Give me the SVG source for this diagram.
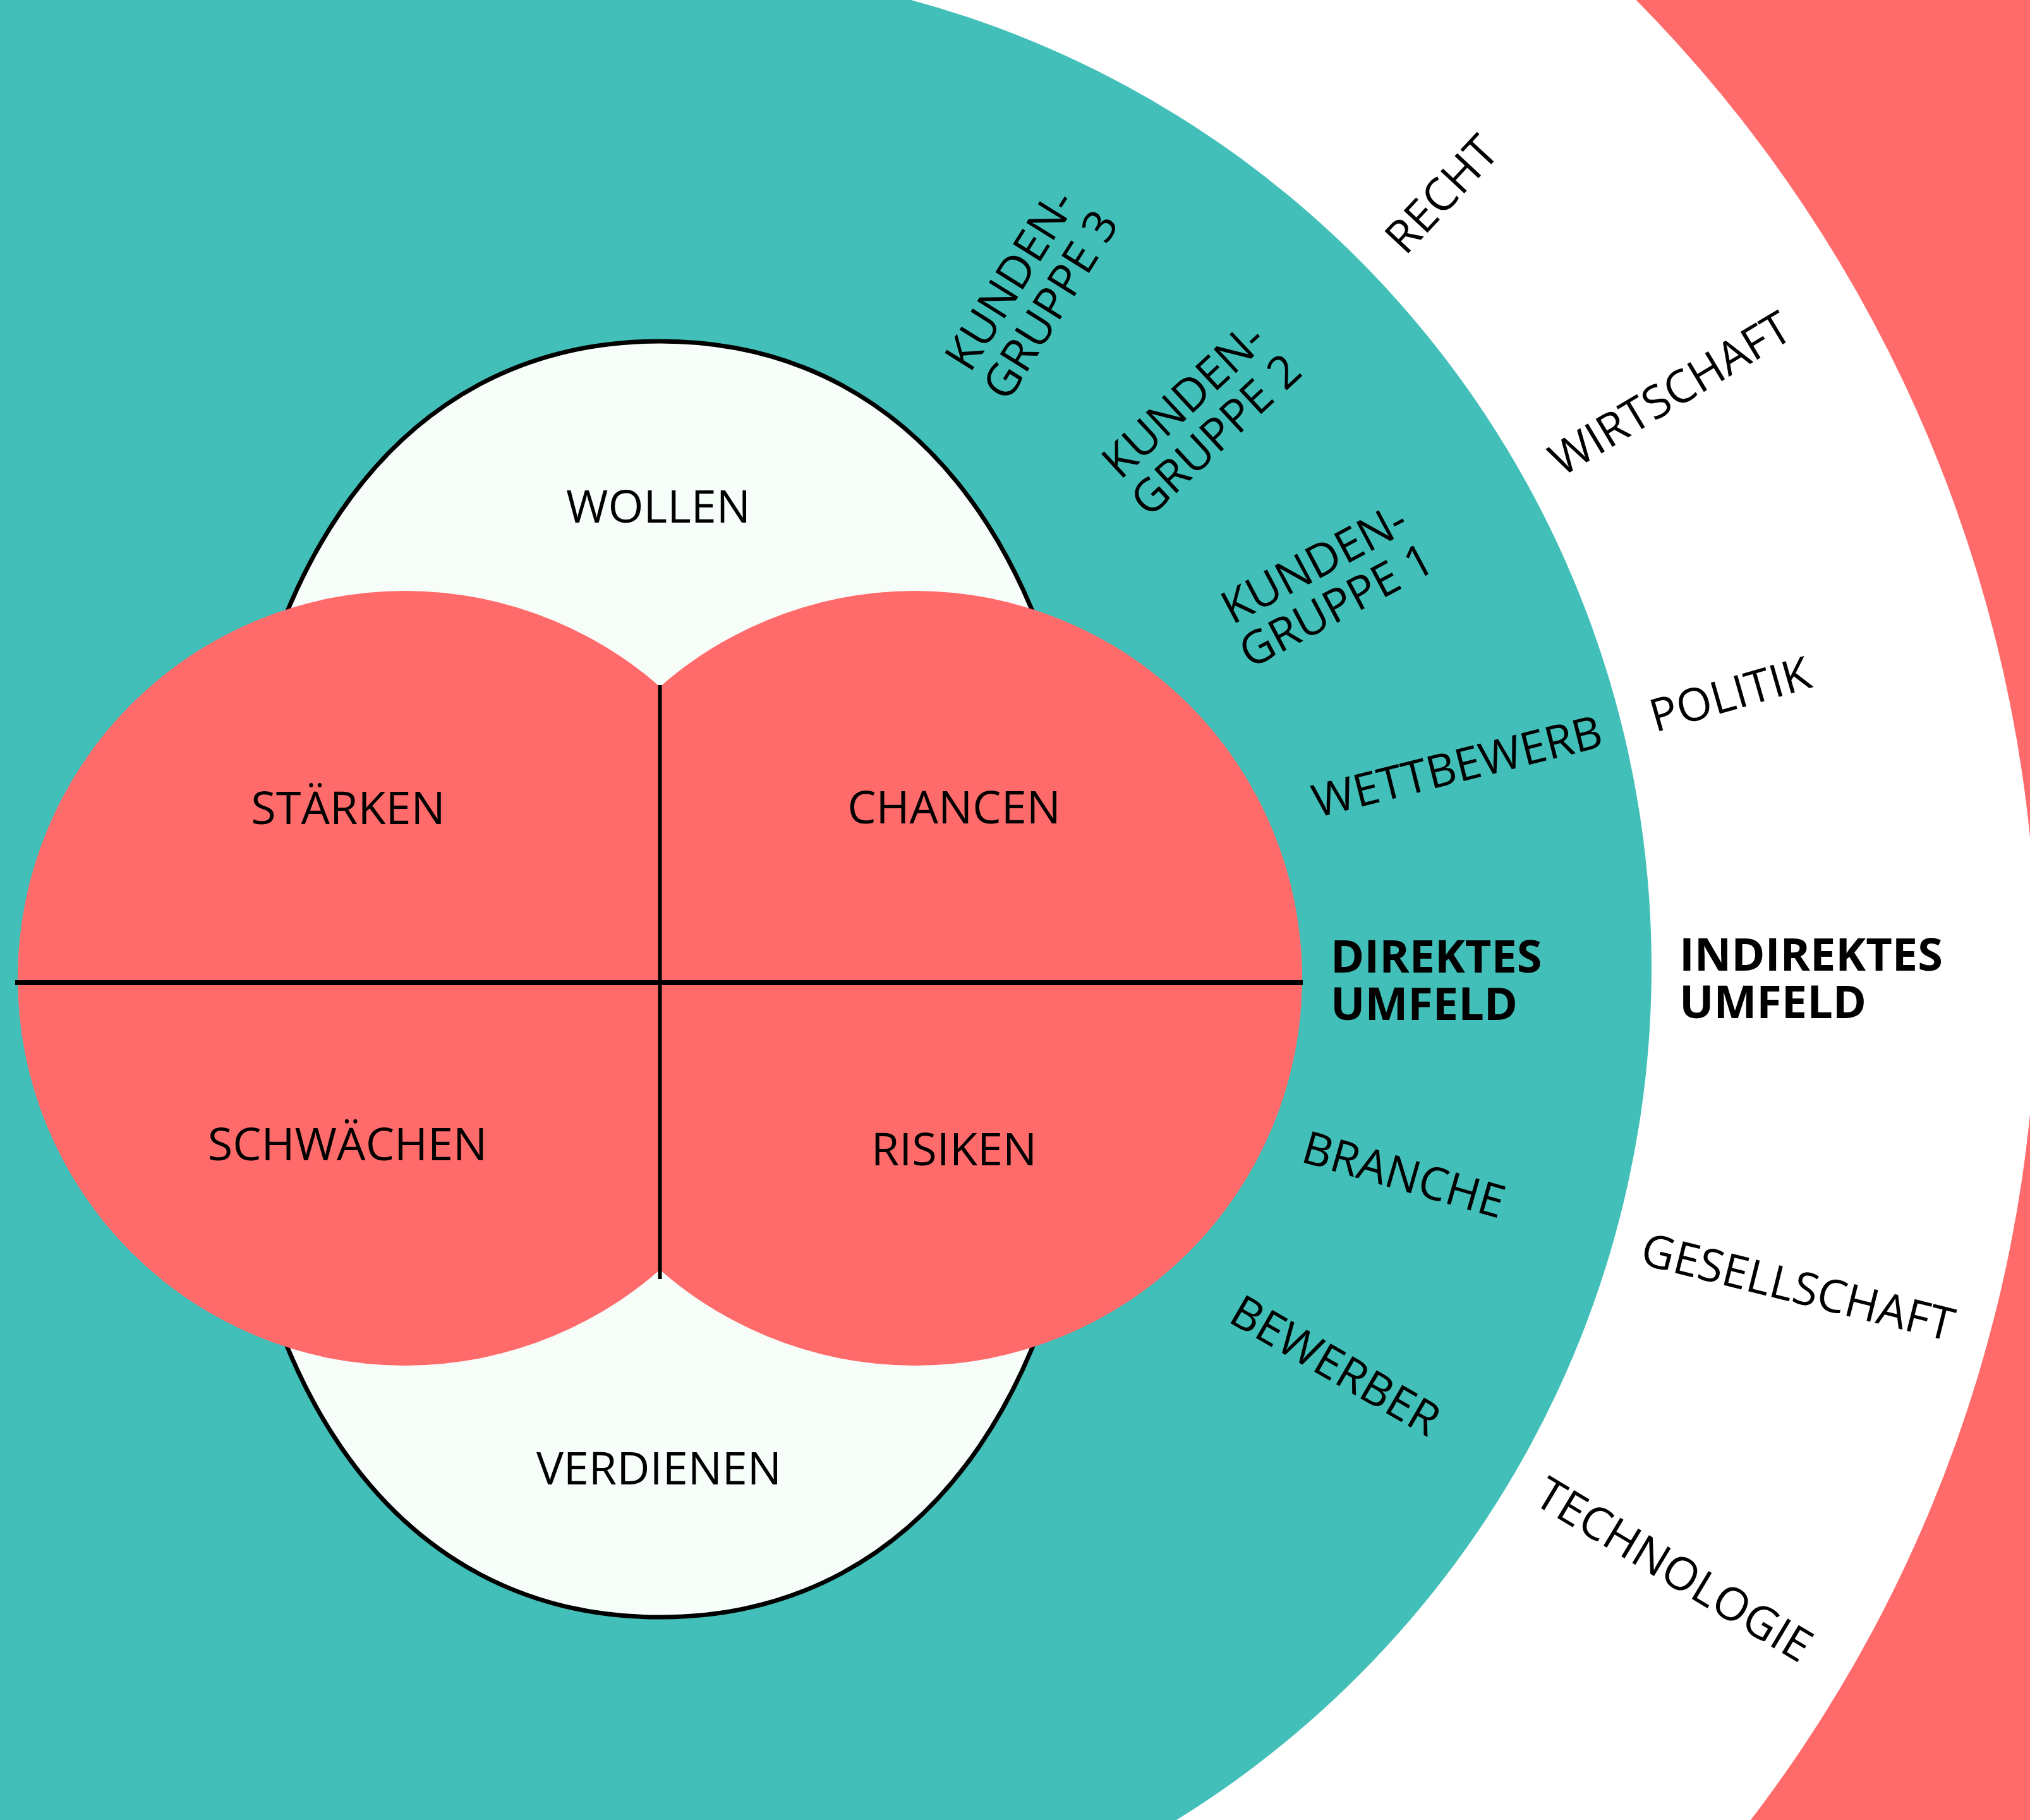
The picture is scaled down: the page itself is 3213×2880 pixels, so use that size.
<svg xmlns="http://www.w3.org/2000/svg" width="3213" height="2880" viewBox="0 0 3213 2880">
  <style>
    .lbl { font-family: "Open Sans", "Noto Sans", "DejaVu Sans", sans-serif; font-size: 72px; fill: #000; text-anchor: middle; }
    .head { font-family: "Open Sans", "Noto Sans", "DejaVu Sans", sans-serif; font-size: 72px; font-weight: 700; fill: #000; text-anchor: start; }
    .divider { stroke: #000; fill: none; }
  </style>

  <!-- background and environment rings -->
  <g id="rings">
    <rect x="0" y="0" width="3213" height="2880" fill="#FF6B6B"/>
    <circle id="ring-indirect" cx="1028" cy="1544" r="2196" fill="#FFFFFF"/>
    <!-- direct environment: arc on the right, filled out to the left edge -->
    <path id="ring-direct" d="M1442,0 A1586,1586 0 0 1 1862,2880 L0,2880 L0,0 Z" fill="#42BFB8"/>
  </g>

  <!-- core: goals shape with the SWOT quadrants on top -->
  <g id="core">
    <path id="goals" d="M1044.5,540 C1472.3,540 1734.5,923.6 1734.5,1549.5 C1734.5,2175.4 1472.3,2559 1044.5,2559 C616.7,2559 354.5,2175.4 354.5,1549.5 C354.5,923.6 616.7,540 1044.5,540 Z" fill="#F7FEFA" stroke="#000" stroke-width="7"/>
    <circle id="lobe-left" cx="641" cy="1548" r="613" fill="#FF6B6B"/>
    <circle id="lobe-right" cx="1448" cy="1548" r="613" fill="#FF6B6B"/>
  </g>

  <g id="connectors">
    <line class="divider" x1="24" y1="1555" x2="2062" y2="1555" stroke-width="8"/>
    <line class="divider" x1="1044.5" y1="1084" x2="1044.5" y2="2024" stroke-width="6"/>
  </g>

  <!-- SWOT and goal labels -->
  <g id="wollen"><text class="lbl" x="1042" y="827">WOLLEN</text></g>
  <g id="verdienen"><text class="lbl" x="1043" y="2349">VERDIENEN</text></g>
  <g id="staerken"><text class="lbl" x="551" y="1304">STÄRKEN</text></g>
  <g id="chancen"><text class="lbl" x="1510" y="1303">CHANCEN</text></g>
  <g id="schwaechen"><text class="lbl" x="550" y="1836">SCHWÄCHEN</text></g>
  <g id="risiken"><text class="lbl" x="1510" y="1844">RISIKEN</text></g>

  <!-- direct environment -->
  <g id="kundengruppe-3" transform="translate(1630 462) rotate(-58)">
    <text class="lbl" x="0" y="-11.5">KUNDEN-</text>
    <text class="lbl" x="0" y="63.5">GRUPPE 3</text>
  </g>
  <g id="kundengruppe-2" transform="translate(1898 660) rotate(-43)">
    <text class="lbl" x="0" y="-11.5">KUNDEN-</text>
    <text class="lbl" x="0" y="63.5">GRUPPE 2</text>
  </g>
  <g id="kundengruppe-1" transform="translate(2097 924) rotate(-28)">
    <text class="lbl" x="0" y="-11.5">KUNDEN-</text>
    <text class="lbl" x="0" y="63.5">GRUPPE 1</text>
  </g>
  <g id="wettbewerb" transform="translate(2306 1212) rotate(-14)">
    <text class="lbl" x="0" y="26">WETTBEWERB</text>
  </g>
  <g id="direktes-umfeld">
    <text class="head" x="2106" y="1539">DIREKTES</text>
    <text class="head" x="2106" y="1614">UMFELD</text>
  </g>
  <g id="branche" transform="translate(2222 1858) rotate(16)">
    <text class="lbl" x="0" y="26">BRANCHE</text>
  </g>
  <g id="bewerber" transform="translate(2114 2160) rotate(30)">
    <text class="lbl" x="0" y="26">BEWERBER</text>
  </g>

  <!-- indirect environment -->
  <g id="recht" transform="translate(2281 307) rotate(-47)">
    <text class="lbl" x="0" y="26">RECHT</text>
  </g>
  <g id="wirtschaft" transform="translate(2643 622) rotate(-31)">
    <text class="lbl" x="0" y="26">WIRTSCHAFT</text>
  </g>
  <g id="politik" transform="translate(2738 1098) rotate(-16)">
    <text class="lbl" x="0" y="26">POLITIK</text>
  </g>
  <g id="indirektes-umfeld">
    <text class="head" x="2658" y="1536">INDIREKTES</text>
    <text class="head" x="2658" y="1611">UMFELD</text>
  </g>
  <g id="gesellschaft" transform="translate(2846 2036) rotate(14)">
    <text class="lbl" x="0" y="26">GESELLSCHAFT</text>
  </g>
  <g id="technologie" transform="translate(2650 2483) rotate(31)">
    <text class="lbl" x="0" y="26">TECHNOLOGIE</text>
  </g>
</svg>
